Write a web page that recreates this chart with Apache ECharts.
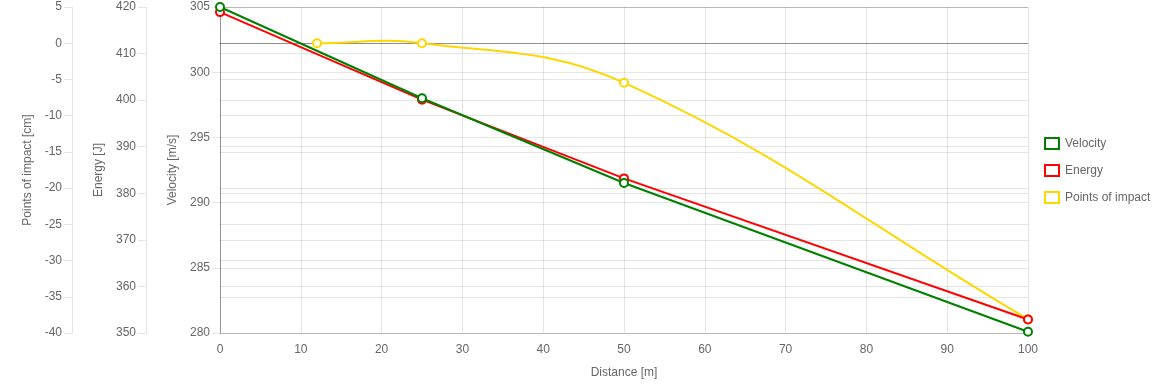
<!DOCTYPE html>
<html>
<head>
<meta charset="utf-8">
<script src="https://cdn.jsdelivr.net/npm/echarts@6/dist/echarts.min.js"></script>
<style>
html,body{margin:0;padding:0;background:#fff;}
#chart{width:1160px;height:386px;}
</style>
</head>
<body>
<div id="chart"></div>
<script>
var distances = [0, 25, 50, 100];
var velocity = [305.0, 298.0, 291.5, 280.1];
var energy = [418.9, 400.1, 383.2, 352.9];
var impactDistances = [12, 25, 50, 100];
var impact = [0.0, 0.0, -5.45, -38.1];

var seriesNames = ['Velocity', 'Energy', 'Points of impact'];
var colors = ['#008000', '#ff0000', '#ffd700'];

function pairs(xs, ys) { return xs.map(function (x, i) { return [x, ys[i]]; }); }

var font = 'Liberation Sans, Arial, Helvetica, sans-serif';
var txt = '#666';
var grid = 'rgba(0,0,0,0.1)';

function yAx(name, min, max, interval, offset, nameGap, lineColor, splitColors) {
  return {
    type: 'value', position: 'left', offset: offset,
    min: min, max: max, interval: interval,
    name: name, nameLocation: 'middle', nameGap: nameGap,
    nameTextStyle: { color: txt, fontSize: 12, fontFamily: font },
    axisLine: { show: true, lineStyle: { color: lineColor, width: 1 } },
    axisTick: { show: true, length: 8, lineStyle: { color: grid } },
    axisLabel: { color: txt, fontSize: 12, fontFamily: font, margin: 10 },
    splitLine: { show: true, lineStyle: { color: splitColors || grid, width: 1 } }
  };
}

var impactSplit = [];
for (var i = 0; i < 10; i++) impactSplit.push(i === 8 ? 'rgba(0,0,0,0.2)' : grid);

// Chart.js-style spline (tension 0.4) through the points, computed in pixel space
function splinePath(api) {
  var pts = impactDistances.map(function (x, i) { return api.coord([x, impact[i]]); });
  var t = 0.4;
  var cps = pts.map(function (p, i) {
    var prev = pts[i - 1] || p, next = pts[i + 1] || p;
    var d01 = Math.hypot(p[0] - prev[0], p[1] - prev[1]);
    var d12 = Math.hypot(next[0] - p[0], next[1] - p[1]);
    var s01 = d01 / (d01 + d12), s12 = d12 / (d01 + d12);
    if (isNaN(s01)) s01 = 0;
    if (isNaN(s12)) s12 = 0;
    var fa = t * s01, fb = t * s12;
    return {
      px: p[0] - fa * (next[0] - prev[0]), py: p[1] - fa * (next[1] - prev[1]),
      nx: p[0] + fb * (next[0] - prev[0]), ny: p[1] + fb * (next[1] - prev[1])
    };
  });
  var d = 'M' + pts[0][0] + ' ' + pts[0][1];
  for (var k = 1; k < pts.length; k++) {
    d += ' C' + cps[k - 1].nx + ' ' + cps[k - 1].ny + ' ' + cps[k].px + ' ' + cps[k].py + ' ' + pts[k][0] + ' ' + pts[k][1];
  }
  return d;
}

var option = {
  animation: false,
  grid: { left: 220, right: 132, top: 7, bottom: 53 },
  legend: {
    orient: 'vertical', left: 1044, top: 137, padding: 0,
    itemWidth: 14, itemHeight: 11, itemGap: 14,
    icon: 'rect',
    textStyle: { color: txt, fontSize: 12, fontFamily: font, padding: [0, 0, 0, 1] },
    data: seriesNames.map(function (n, i) {
      return { name: n, itemStyle: { color: '#fff', borderColor: colors[i], borderWidth: 2 } };
    })
  },
  xAxis: {
    type: 'value', min: 0, max: 100, interval: 10,
    name: 'Distance [m]', nameLocation: 'middle', nameGap: 34,
    nameTextStyle: { color: txt, fontSize: 12, fontFamily: font },
    axisLine: { show: true, lineStyle: { color: 'rgba(0,0,0,0.3)' } },
    axisTick: { show: false },
    axisLabel: { color: txt, fontSize: 12, fontFamily: font, margin: 11 },
    splitLine: { show: true, lineStyle: { color: grid } }
  },
  yAxis: [
    yAx('Velocity [m/s]', 280, 305, 5, 0, 40, 'rgba(0,0,0,0.35)'),
    yAx('Energy [J]', 350, 420, 10, 74, 40, grid),
    yAx('Points of impact [cm]', -40, 5, 5, 148, 37, grid, impactSplit)
  ],
  series: [
    {
      name: seriesNames[0], type: 'line', yAxisIndex: 0, data: pairs(distances, velocity),
      symbol: 'circle', symbolSize: 8, z: 4,
      lineStyle: { color: colors[0], width: 2 },
      itemStyle: { color: '#fff', borderColor: colors[0], borderWidth: 2 }
    },
    {
      name: seriesNames[1], type: 'line', yAxisIndex: 1, data: pairs(distances, energy),
      symbol: 'circle', symbolSize: 8, z: 3,
      lineStyle: { color: colors[1], width: 2 },
      itemStyle: { color: '#fff', borderColor: colors[1], borderWidth: 2 }
    },
    {
      name: seriesNames[2], type: 'custom', yAxisIndex: 2, data: pairs(impactDistances, impact),
      encode: { x: 0, y: 1 }, z: 1, silent: true,
      itemStyle: { color: colors[2] },
      renderItem: function (params, api) {
        if (params.dataIndex !== 0) return null;
        return {
          type: 'path',
          shape: { pathData: splinePath(api) },
          style: { fill: 'none', stroke: colors[2], lineWidth: 2 }
        };
      }
    },
    {
      name: seriesNames[2], type: 'line', yAxisIndex: 2, data: pairs(impactDistances, impact),
      symbol: 'circle', symbolSize: 8, z: 2,
      lineStyle: { color: colors[2], width: 2, opacity: 0 },
      itemStyle: { color: '#fff', borderColor: colors[2], borderWidth: 2 }
    }
  ]
};

var chart = echarts.init(document.getElementById('chart'), null, { renderer: 'canvas' });
chart.setOption(option);
</script>
</body>
</html>
